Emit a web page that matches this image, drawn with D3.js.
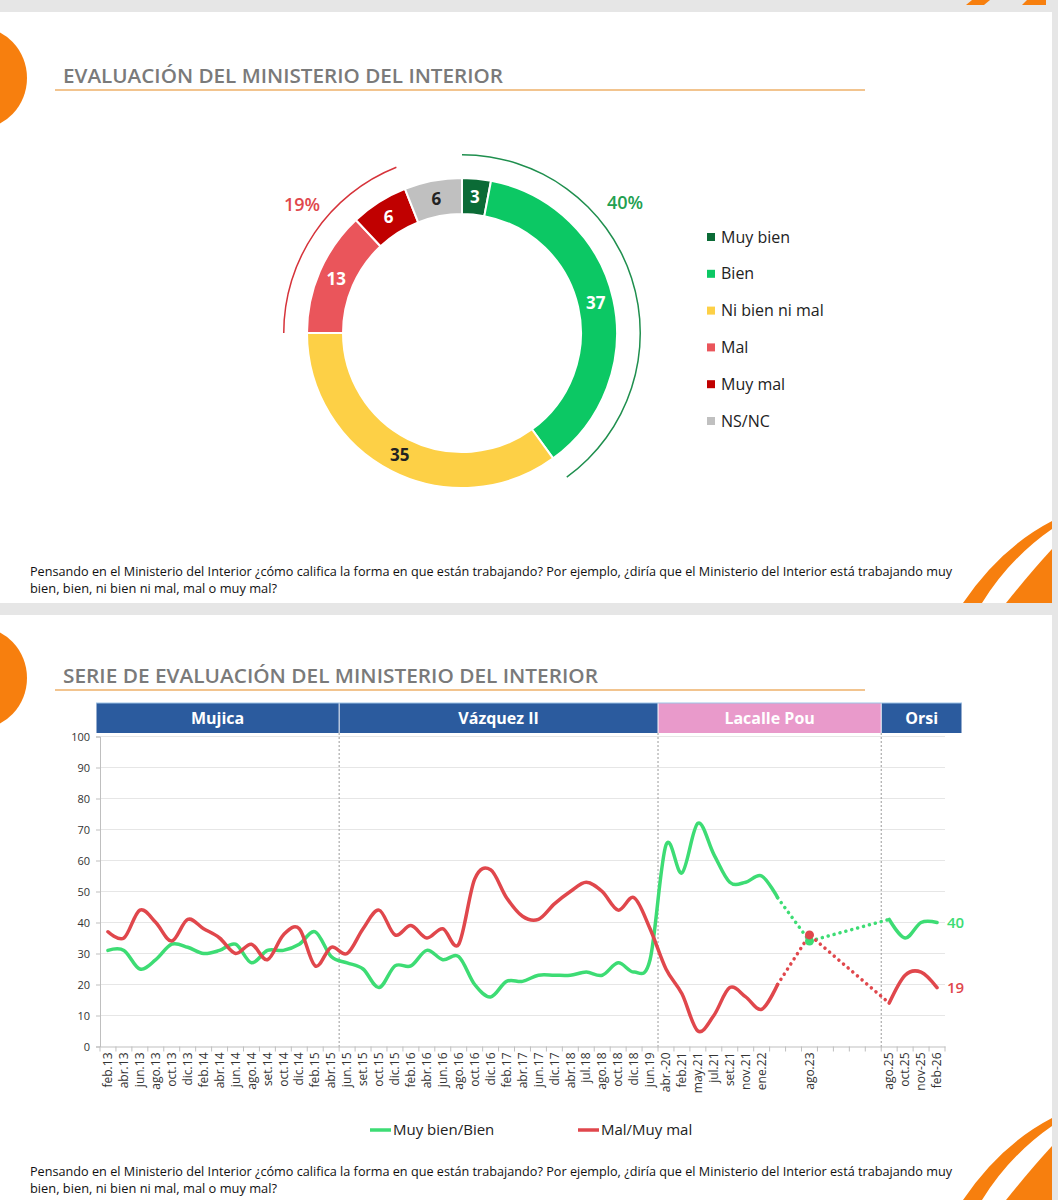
<!DOCTYPE html>
<html><head><meta charset="utf-8">
<script src="https://cdn.jsdelivr.net/npm/d3@7"></script>
<style>body{margin:0;background:#e9e9e9}svg{display:block;font-family:"Open Sans",sans-serif}</style>
</head><body><svg id="c" width="1058" height="1200"></svg>
<script>
// ---------- DATA ----------
const donutLabels = ["Muy bien","Bien","Ni bien ni mal","Mal","Muy mal","NS/NC"];
const donutValues = [3,37,35,13,6,6];
const donutColors = ["#0b6b36","#0cc864","#fdd046","#ea555b","#c00000","#c0c0c0"];
const donutTextColors = ["#fff","#fff","#222","#fff","#fff","#222"];
const positiveTotal = "40%";
const negativeTotal = "19%";

const periods = ["Mujica","Vázquez II","Lacalle Pou","Orsi"];
const periodStart = [0,15,35,49];
const periodEnd = [15,35,49,53];
const periodColors = ["#2b5b9e","#2b5b9e","#e99acb","#2b5b9e"];

const dates = ["feb.13","abr.13","jun.13","ago.13","oct.13","dic.13","feb.14","abr.14","jun.14","ago.14","set.14","oct.14","dic.14","feb.15","abr.15",
 "jun.15","set.15","oct.15","dic.15","feb.16","abr.16","jun.16","ago.16","oct.16","dic.16","feb.17","abr.17","jun.17","dic.17","abr.18","jul.18","ago.18","oct.18","dic.18","jun.19",
 "abr.-20","feb.21","may.21","jul.21","set.21","nov.21","ene.22","","","ago.23","","","","",
 "ago.25","oct.25","nov-25","feb-26"];
const goodSeries = [31,31,25,28,33,32,30,31,33,27,31,31,33,37,29,
 27,25,19,26,26,31,28,29,20,16,21,21,23,23,23,24,23,27,24,28,
 65,56,72,62,53,53,55,48,null,34,null,null,null,null,
 41,35,40,40];
const badSeries = [37,35,44,40,34,41,38,35,30,33,28,36,38,26,32,
 30,38,44,36,39,35,38,33,54,57,48,42,41,46,50,53,50,44,48,38,
 25,17,5,10,19,16,12,20,null,36,null,null,null,null,
 14,23,24,19];
const gapLinks = [42,44,49];
const yTicks = [0,10,20,30,40,50,60,70,80,90,100];
const seriesNames = ["Muy bien/Bien","Mal/Muy mal"];
const question1 = "Pensando en el Ministerio del Interior ¿cómo califica la forma en que están trabajando? Por ejemplo, ¿diría que el Ministerio del Interior está trabajando muy";
const question2 = "bien, bien, ni bien ni mal, mal o muy mal?";

// ---------- PAGE ----------
const svg = d3.select("#c");
const GREEN = "#3ddc74", RED = "#e0474c";

svg.append("rect").attr("x",0).attr("y",0).attr("width",1058).attr("height",1200).attr("fill","#e6e6e6");
[[12,603],[615,1200]].forEach(([y0,y1])=>{
  svg.append("rect").attr("x",0).attr("y",y0).attr("width",1052).attr("height",y1-y0).attr("fill","#fff");
});
// orange decorations
function swoosh(yb){
  svg.append("path").attr("fill","#f77f0e")
    .attr("d",`M963,${yb} Q1000,${yb-55} 1052,${yb-82} L1052,${yb-74} Q1010,${yb-45} 982,${yb} Z`);
  svg.append("path").attr("fill","#f77f0e")
    .attr("d",`M1006,${yb} Q1030,${yb-30} 1052,${yb-54} L1052,${yb} Z`);
}
swoosh(603); swoosh(1200);
svg.append("path").attr("fill","#f77f0e").attr("d","M966,5 L972,0 L990,0 L984,5 Z");
svg.append("path").attr("fill","#f77f0e").attr("d","M1022,5 L1027,0 L1046,0 L1046,5 Z");

function header(title, y, len){
  svg.append("ellipse").attr("cx",-22).attr("cy",y-5).attr("rx",49).attr("ry",51).attr("fill","#f77f0e");
  svg.append("text").attr("x",63).attr("y",y).attr("font-size",20).attr("font-weight",600).attr("fill","#7a7a7a")
    .attr("textLength",len).attr("lengthAdjust","spacingAndGlyphs").text(title);
  svg.append("line").attr("x1",55).attr("x2",865).attr("y1",y+7).attr("y2",y+7)
    .attr("stroke","#f2c48f").attr("stroke-width",2);
}
header("EVALUACIÓN DEL MINISTERIO DEL INTERIOR", 83, 440);
header("SERIE DE EVALUACIÓN DEL MINISTERIO DEL INTERIOR", 683, 535);

function footer(y){
  svg.append("text").attr("x",30).attr("y",y).attr("font-size",12.5).attr("fill","#111")
    .attr("textLength",922).attr("lengthAdjust","spacingAndGlyphs").text(question1);
  svg.append("text").attr("x",30).attr("y",y+17).attr("font-size",12.5).attr("fill","#111")
    .attr("textLength",247).attr("lengthAdjust","spacingAndGlyphs").text(question2);
}
footer(576); footer(1176);

// ---------- DONUT ----------
const cx = 462, cy = 333;
const g = svg.append("g").attr("transform",`translate(${cx},${cy})`);
const pie = d3.pie().sort(null).value(d=>d)(donutValues);
const arc = d3.arc().innerRadius(119).outerRadius(155);
g.selectAll("path.seg").data(pie).join("path").attr("class","seg")
  .attr("d",arc).attr("fill",(d,i)=>donutColors[i]).attr("stroke","#fff").attr("stroke-width",2);
const labArc = d3.arc().innerRadius(137).outerRadius(137);
g.selectAll("text.v").data(pie).join("text").attr("class","v")
  .attr("transform",d=>`translate(${labArc.centroid(d)})`)
  .attr("text-anchor","middle").attr("dy","0.36em")
  .attr("font-size",17).attr("font-weight","bold")
  .attr("fill",(d,i)=>donutTextColors[i]).text(d=>d.data);
// outer summary arcs
const posEnd = pie[1].endAngle;
const negStart = pie[3].startAngle, negEnd = pie[4].endAngle;
const thin = d3.arc().innerRadius(177.5).outerRadius(179);
g.append("path").attr("d",thin({startAngle:0,endAngle:posEnd})).attr("fill","#1f8f4e");
g.append("path").attr("d",thin({startAngle:negStart,endAngle:negEnd})).attr("fill","#d6333a");
svg.append("text").attr("x",625).attr("y",209).attr("text-anchor","middle").attr("font-size",18).attr("font-weight",600)
  .attr("fill","#22a050").text(positiveTotal);
svg.append("text").attr("x",302).attr("y",211).attr("text-anchor","middle").attr("font-size",18).attr("font-weight",600)
  .attr("fill","#e0474c").text(negativeTotal);
// legend
const lg = svg.append("g");
donutLabels.forEach((l,i)=>{
  const y = 237 + i*36.8;
  lg.append("rect").attr("x",707).attr("y",y-4).attr("width",8).attr("height",8).attr("fill",donutColors[i]);
  lg.append("text").attr("x",721).attr("y",y).attr("dy","0.35em").attr("font-size",16).attr("fill","#222").text(l);
});

// ---------- LINE CHART ----------
const x = d3.scaleBand().domain(d3.range(dates.length)).range([100,945]).paddingInner(0).paddingOuter(0);
const y = d3.scaleLinear().domain([0,100]).range([1046.5,736.5]);
const cxp = i => x(i) + x.bandwidth()/2;

// header bands
periods.forEach((p,i)=>{
  const x0 = i===0 ? 96 : x(periodStart[i]);
  const x1 = i===periods.length-1 ? 962 : x(periodEnd[i]);
  svg.append("rect").attr("x",x0+0.5).attr("y",703).attr("width",x1-x0-1).attr("height",30).attr("fill",periodColors[i]);
  svg.append("line").attr("x1",x0).attr("x2",x1).attr("y1",703).attr("y2",703).attr("stroke","#9dc3e6").attr("stroke-width",1);
  svg.append("text").attr("x",(x0+x1)/2).attr("y",718).attr("dy","0.35em").attr("text-anchor","middle")
    .attr("font-size",16).attr("font-weight","bold").attr("fill","#fff").text(p);
});

// gridlines
svg.append("g").selectAll("line").data(yTicks.filter(t=>t>0)).join("line")
  .attr("x1",100).attr("x2",945).attr("y1",d=>y(d)).attr("y2",d=>y(d))
  .attr("stroke","#e6e6e6").attr("stroke-width",1.2);
// y axis
const ya = svg.append("g").attr("transform","translate(100,0)")
  .call(d3.axisLeft(y).tickValues(yTicks).tickSize(4).tickPadding(6));
ya.select(".domain").attr("stroke","#bfbfbf");
ya.selectAll(".tick line").attr("stroke","#bfbfbf");
ya.selectAll("text").attr("font-size",11).attr("fill","#333").attr("font-family","Open Sans");
// x axis
const xa = svg.append("g").attr("transform",`translate(0,${y(0)})`)
  .call(d3.axisBottom(x).tickFormat(i=>dates[i]).tickSize(0).tickPadding(0));
xa.select(".domain").attr("stroke","#bfbfbf");
xa.selectAll("text").attr("font-size",12).attr("fill","#333").attr("font-family","Open Sans")
  .attr("text-anchor","end").attr("transform","rotate(-90)").attr("x",-6).attr("y",0).attr("dy","0.35em");
svg.append("g").selectAll("line").data(d3.range(dates.length+1)).join("line")
  .attr("x1",i=>i<dates.length? x(i): 945).attr("x2",i=>i<dates.length? x(i): 945)
  .attr("y1",y(0)).attr("y2",y(0)+5).attr("stroke","#bfbfbf");
// period dividers
periodStart.slice(1).forEach(s=>{
  svg.append("line").attr("x1",x(s)).attr("x2",x(s)).attr("y1",733).attr("y2",y(0))
    .attr("stroke","#9a9a9a").attr("stroke-width",1).attr("stroke-dasharray","2,2");
});

function drawSeries(vals,color){
  const line = d3.line().defined(d=>d.v!=null).x(d=>cxp(d.i)).y(d=>y(d.v)).curve(d3.curveCardinal);
  const pts = vals.map((v,i)=>({i,v}));
  const solid = pts.map(p=> (p.i===gapLinks[1]) ? {i:p.i,v:null} : p);
  svg.append("path").attr("d",line(solid)).attr("fill","none").attr("stroke",color)
    .attr("stroke-width",3.5).attr("stroke-linejoin","round").attr("stroke-linecap","round");
  const dl = d3.line().x(d=>cxp(d)).y(d=>y(vals[d]));
  svg.append("path").attr("d",dl(gapLinks)).attr("fill","none").attr("stroke",color)
    .attr("stroke-width",3.5).attr("stroke-linecap","round").attr("stroke-dasharray","0.1,6");
}
drawSeries(goodSeries,GREEN);
drawSeries(badSeries,RED);
svg.append("circle").attr("cx",cxp(gapLinks[1])).attr("cy",y(goodSeries[gapLinks[1]])).attr("r",4.5).attr("fill",GREEN);
svg.append("circle").attr("cx",cxp(gapLinks[1])).attr("cy",y(badSeries[gapLinks[1]])).attr("r",4.5).attr("fill",RED);

// end labels
const last = dates.length-1;
svg.append("text").attr("x",947).attr("y",y(goodSeries[last])).attr("dy","0.35em").attr("font-size",15).attr("font-weight",600).attr("fill",GREEN).text(goodSeries[last]);
svg.append("text").attr("x",947).attr("y",y(badSeries[last])).attr("dy","0.35em").attr("font-size",15).attr("font-weight",600).attr("fill",RED).text(badSeries[last]);

// legend
[[370,GREEN],[578,RED]].forEach(([lx,c],i)=>{
  svg.append("line").attr("x1",lx).attr("x2",lx+21).attr("y1",1130).attr("y2",1130).attr("stroke",c).attr("stroke-width",3.5);
  svg.append("text").attr("x",lx+23).attr("y",1130).attr("dy","0.35em").attr("font-size",15).attr("fill","#222").text(seriesNames[i]);
});
</script></body></html>
